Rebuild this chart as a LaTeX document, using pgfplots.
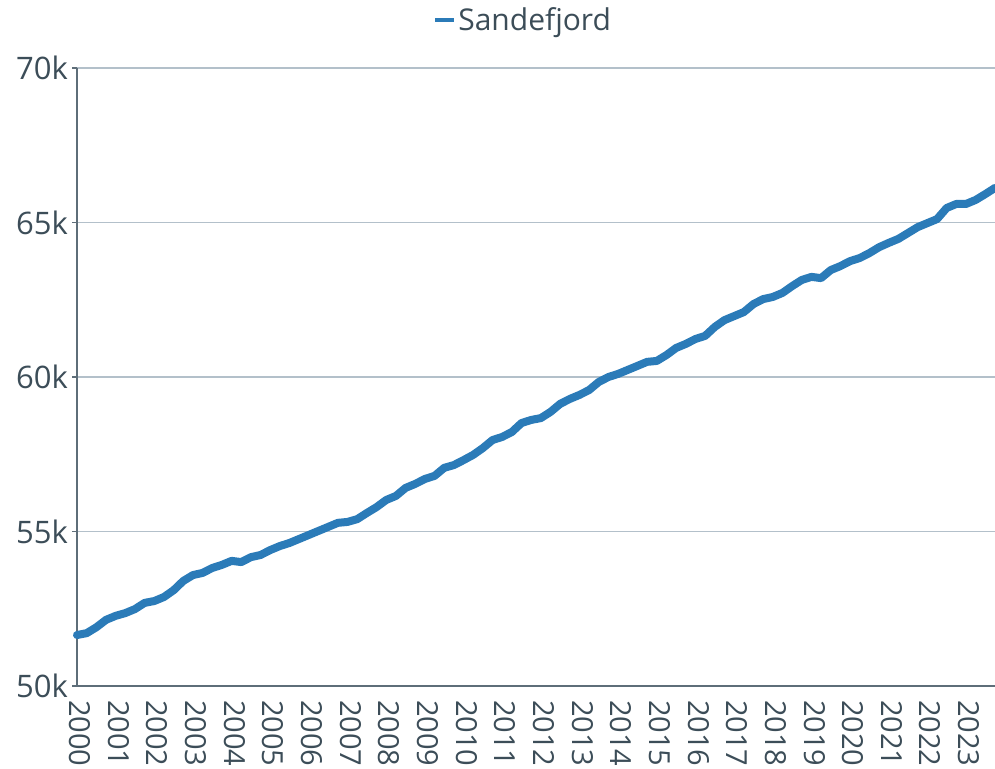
\documentclass[border=0pt]{standalone}
\usepackage{fontspec}
\setmainfont{Open Sans}
\usepackage{pgfplots}
\pgfplotsset{compat=1.18}
\definecolor{linec}{HTML}{2B7BB8}
\definecolor{textc}{HTML}{3C4D58}
\definecolor{axisc}{HTML}{5E6E79}
\definecolor{gridc}{HTML}{B3C0CA}

\begin{document}
\begin{tikzpicture}
\begin{axis}[
    name=ax,
    scale only axis,
    width=918pt, height=618pt,
    xmin=2000, xmax=2023.75,
    ymin=50000, ymax=70000,
    xtick={2000,2001,...,2023},
    ytick={50000,55000,60000,65000,70000},
    yticklabels={50k,55k,60k,65k,70k},
    scaled y ticks=false,
    /pgf/number format/1000 sep={},
    /pgf/number format/assume math mode=true,
    ymajorgrids,
    major grid style={color=gridc, line width=1.2pt},
    axis x line*=bottom, axis y line*=left,
    axis line style={-, color=axisc, line width=1.8pt},
    every inner x axis line/.append style={-},
    every inner y axis line/.append style={-},
    xtick style={draw=none},
    ytick style={color=axisc, line width=1.2pt},
    tick align=outside,
    major tick length=5pt,
    ticklabel style={font=\fontsize{31pt}{36pt}\selectfont, text=textc},
    xticklabel style={font=\fontsize{29pt}{34pt}\selectfont, rotate=-90, anchor=west, inner sep=0pt, xshift=9pt, yshift=3pt},
    yticklabel style={inner sep=0pt, xshift=-4pt},
    legend style={at={(0.486,1.055)}, anchor=south, draw=none, fill=none,
        font=\fontsize{30pt}{36pt}\selectfont, text=textc, inner sep=0pt},
    legend image code/.code={\draw[#1, line width=4pt, line cap=butt] (0pt,0pt) -- (19pt,0pt);},
    clip=false,
]
\addplot[color=linec, line width=8pt, line join=round, line cap=round] coordinates {
(2000.00,51650) (2000.25,51710) (2000.50,51900) (2000.75,52140)
(2001.00,52270) (2001.25,52360) (2001.50,52490) (2001.75,52690)
(2002.00,52750) (2002.25,52880) (2002.50,53100) (2002.75,53400)
(2003.00,53590) (2003.25,53660) (2003.50,53820) (2003.75,53920)
(2004.00,54050) (2004.25,54010) (2004.50,54170) (2004.75,54240)
(2005.00,54400) (2005.25,54530) (2005.50,54630) (2005.75,54760)
(2006.00,54890) (2006.25,55020) (2006.50,55150) (2006.75,55280)
(2007.00,55310) (2007.25,55400) (2007.50,55600) (2007.75,55790)
(2008.00,56020) (2008.25,56150) (2008.50,56410) (2008.75,56540)
(2009.00,56700) (2009.25,56800) (2009.50,57060) (2009.75,57150)
(2010.00,57310) (2010.25,57480) (2010.50,57700) (2010.75,57960)
(2011.00,58060) (2011.25,58220) (2011.50,58510) (2011.75,58610)
(2012.00,58670) (2012.25,58870) (2012.50,59130) (2012.75,59290)
(2013.00,59420) (2013.25,59580) (2013.50,59840) (2013.75,60000)
(2014.00,60100) (2014.25,60230) (2014.50,60360) (2014.75,60490)
(2015.00,60520) (2015.25,60710) (2015.50,60940) (2015.75,61070)
(2016.00,61230) (2016.25,61330) (2016.50,61620) (2016.75,61840)
(2017.00,61970) (2017.25,62100) (2017.50,62360) (2017.75,62520)
(2018.00,62590) (2018.25,62720) (2018.50,62940) (2018.75,63140)
(2019.00,63240) (2019.25,63200) (2019.50,63460) (2019.75,63590)
(2020.00,63750) (2020.25,63850) (2020.50,64010) (2020.75,64200)
(2021.00,64340) (2021.25,64470) (2021.50,64660) (2021.75,64850)
(2022.00,64980) (2022.25,65110) (2022.50,65470) (2022.75,65600)
(2023.00,65600) (2023.25,65730) (2023.50,65920) (2023.75,66120)
};
\legend{Sandefjord}
\end{axis}
\pgfresetboundingbox
\path ([xshift=-77pt,yshift=-82pt]ax.south west) rectangle ([yshift=68pt]ax.north east);
\end{tikzpicture}
\end{document}
